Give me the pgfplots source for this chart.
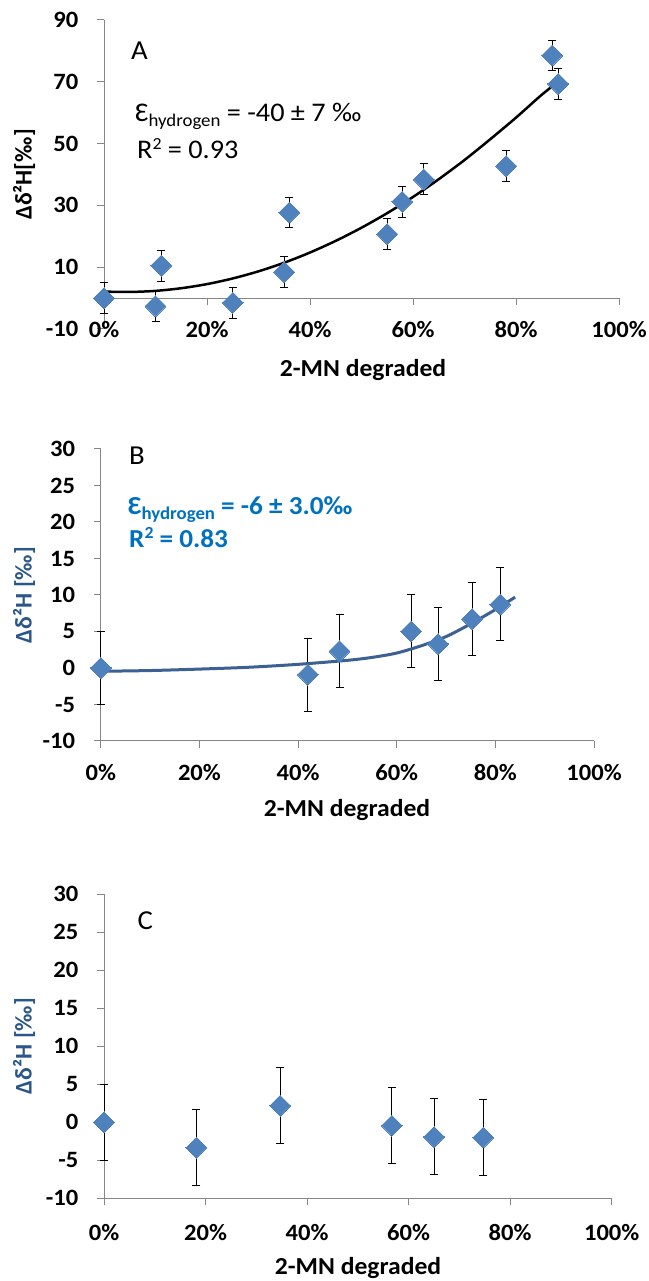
\documentclass[border=0pt]{standalone}
\usepackage{pgfplots}
\pgfplotsset{compat=1.18}
\usepackage{fontspec}
\setmainfont{Carlito}[FakeStretch=1.05]
\newfontfamily\plainfont{Carlito}
\definecolor{mk}{HTML}{4F81BD}
\definecolor{axgray}{HTML}{868686}
\definecolor{fitb}{HTML}{3B6091}
\definecolor{annb}{HTML}{0070C0}
\definecolor{ylab}{HTML}{2A568A}
\pgfplotstableread{
x y e
0 0 5
10 -2.6 5
11.1 10.5 5
25 -1.5 5
35 8.4 5
36 27.7 5
55 20.7 5
57.9 31.2 5
62.1 38.4 5
78.1 42.7 5
87 78.5 5
88.2 69.3 5
}\dataA
\pgfplotstableread{
x y e
0 0 5
42 -0.9 5
48.4 2.3 5
62.9 5.0 5
68.4 3.3 5
75.3 6.7 5
81 8.7 5
}\dataB
\pgfplotstableread{
x y e
0 0 5
18.2 -3.33 5
34.7 2.19 5
56.7 -0.44 5
65 -1.93 5
74.7 -2.0 5
}\dataC
\begin{document}
\begin{tikzpicture}[x=1bp,y=1bp]
\useasboundingbox (0,0) rectangle (649,1281);
\pgfplotsset{
  common/.style={
    scale only axis,
    axis lines=left, axis line style={-, axgray, line width=1bp},
    tick align=outside, major tick length=7bp,
    tick style={axgray, line width=1bp},
    xmin=0, xmax=100, xtick={0,20,40,60,80,100},
    xticklabels={0\%,20\%,40\%,60\%,80\%,100\%},
    tick label style={font=\bfseries\fontsize{23.5}{27}\selectfont, inner sep=0pt},
    yticklabel style={anchor=east, xshift=-18.5bp},
    clip=false,
  },
  errs/.style={black, only marks, mark=none,
    error bars/.cd, y dir=both, y explicit,
    error bar style={black, line width=1bp},
    error mark options={black, line width=1bp, mark size=4bp, rotate=90}},
  pts/.style={mk, only marks, mark=square*, mark size=7.4bp,
    mark options={rotate=45, fill=mk, draw=mk, line width=0pt}},
}
% ---------------- Panel A ----------------
\begin{axis}[common, at={(104bp,952bp)}, anchor=south west, width=515bp, height=309bp,
  ymin=-10, ymax=90, ytick={-10,10,30,50,70,90}, yticklabels={-10,10,30,50,70,90},
  x axis line style={draw=none}, xtick style={draw=none},
  xticklabel style={anchor=center, yshift=6bp}]
\draw[axgray, line width=1bp] (axis cs:0,0) -- (axis cs:100,0);
\pgfplotsinvokeforeach{0,20,40,60,80,100}{\draw[axgray, line width=1bp] (axis cs:#1,0) -- ++(0bp,-7bp);}
\addplot[errs] table[x=x, y=y, y error=e] {\dataA};
\addplot[pts] table[x=x, y=y] {\dataA};
\addplot[black, line width=2.5bp, smooth, no marks] coordinates {
(0,2.1) (5,1.98) (10,2.33) (15,3.19) (20,4.52) (25,6.35) (30,8.66) (35,11.45)
(40,14.74) (45,18.52) (50,22.77) (55,27.5) (60,32.73) (65,38.47) (70,44.68)
(75,51.4) (80,58.4) (85,65.8) (88.2,70.0)
};
\end{axis}
% ---------------- Panel B ----------------
\begin{axis}[common, at={(100.8bp,540bp)}, anchor=south west, width=493.2bp, height=292bp,
  ymin=-10, ymax=30, ytick={-10,-5,0,5,10,15,20,25,30}, yticklabels={-10,-5,0,5,10,15,20,25,30},
  xticklabel style={anchor=center, yshift=-25bp}]
\addplot[errs] table[x=x, y=y, y error=e] {\dataB};
\addplot[pts] table[x=x, y=y] {\dataB};
\addplot[fitb, line width=3bp, smooth, no marks] coordinates {
(0,-0.45) (10,-0.35) (20,-0.15) (30,0.1) (40,0.5) (50,1.05) (55,1.45) (60,2.05)
(65,3.05) (70,4.3) (75,6.05) (80,8.0) (84,9.7)
};
\end{axis}
% ---------------- Panel C ----------------
\begin{axis}[common, at={(104bp,82.7bp)}, anchor=south west, width=507.7bp, height=304bp,
  ymin=-10, ymax=30, ytick={-10,-5,0,5,10,15,20,25,30}, yticklabels={-10,-5,0,5,10,15,20,25,30},
  xticklabel style={anchor=center, yshift=-27bp}]
\addplot[errs] table[x=x, y=y, y error=e] {\dataC};
\addplot[pts] table[x=x, y=y] {\dataC};
\end{axis}
% ---------------- Texts ----------------
\node[anchor=base west, inner sep=0pt] at (131,1221) {\fontsize{27.5}{30}\selectfont A};
\node[anchor=base west, inner sep=0pt] at (129,816) {\fontsize{27.5}{30}\selectfont B};
\node[anchor=base west, inner sep=0pt] at (137.5,351.7) {\fontsize{27.5}{30}\selectfont C};
\node[anchor=base west, inner sep=0pt] at (135,1159) {\fontsize{27}{30}\selectfont Ɛ\raisebox{-4.5bp}{\fontsize{18}{20}\selectfont hydrogen} = -40 ± 7 ‰};
\node[anchor=base west, inner sep=0pt] at (137,1122) {\fontsize{27}{30}\selectfont R\raisebox{9bp}{\fontsize{17}{20}\selectfont 2} = 0.93};
\node[anchor=base west, inner sep=0pt, text=annb] at (128,766) {\bfseries\fontsize{26}{30}\selectfont Ɛ\raisebox{-4.5bp}{\fontsize{18}{20}\selectfont hydrogen} = -6 ± 3.0‰};
\node[anchor=base west, inner sep=0pt, text=annb] at (129,733) {\bfseries\fontsize{26}{30}\selectfont R\raisebox{9bp}{\fontsize{17}{20}\selectfont 2} = 0.83};
\node[anchor=base, inner sep=0pt] at (363,904.3) {\bfseries\fontsize{24.5}{28}\selectfont 2-MN degraded};
\node[anchor=base, inner sep=0pt] at (347,464.3) {\bfseries\fontsize{24.5}{28}\selectfont 2-MN degraded};
\node[anchor=base, inner sep=0pt] at (358,6) {\bfseries\fontsize{24.5}{28}\selectfont 2-MN degraded};
\node[rotate=90, inner sep=0pt] at (24,1106.5) {\plainfont\bfseries\fontsize{24}{28}\selectfont Δδ²H[‰]};
\node[rotate=90, inner sep=0pt, text=ylab] at (24,686) {\plainfont\bfseries\fontsize{24}{28}\selectfont Δδ²H [‰]};
\node[rotate=90, inner sep=0pt, text=ylab] at (24,235) {\plainfont\bfseries\fontsize{24}{28}\selectfont Δδ²H [‰]};
\end{tikzpicture}
\end{document}
